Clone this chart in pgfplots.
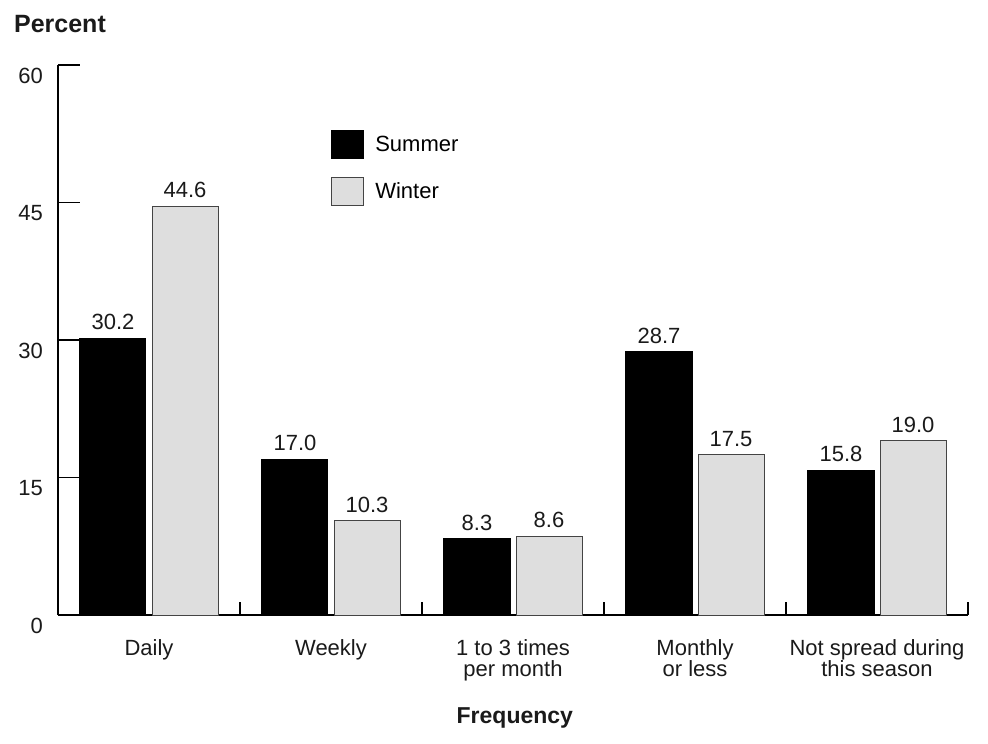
\documentclass[border=0pt]{standalone}
\usepackage{fontspec}
\setmainfont{Liberation Sans}
\usepackage{pgfplots}
\pgfplotsset{compat=1.18}
\definecolor{wbar}{HTML}{DEDEDE}
\definecolor{txt}{HTML}{1A1A1A}
\definecolor{edge}{HTML}{444444}
\begin{document}
\begin{tikzpicture}
\begin{axis}[
  scale only axis, width=455pt, height=275pt,
  xmin=-0.5, xmax=4.5, ymin=0, ymax=60,
  axis x line=bottom, axis y line=left,
  axis line style={line width=0.9pt, -},
  /pgf/number format/assume math mode=true,
  ytick={0,15,30,45,60},
  xtick={0,1,2,3,4},
  xticklabels={Daily, Weekly, {1 to 3 times\\per month}, {Monthly\\or less}, {Not spread during\\this season}},
  minor xtick={0.5,1.5,2.5,3.5,4.5},
  major x tick style={draw=none},
  minor x tick style={yshift=6.5pt},
  tick align=inside,
  major tick length=11pt,
  minor tick length=6.5pt,
  every tick/.style={black, line width=0.9pt},
  ticklabel style={font=\fontsize{11}{10.5}\selectfont, text=txt},
  xticklabel style={align=center, yshift=2.5pt},
  yticklabel style={xshift=-4pt, yshift=-5.5pt},
  every axis y label/.style={at={(rel axis cs:0,1)}, anchor=center, xshift=1pt, yshift=20.5pt, font=\fontsize{12.5}{13}\selectfont\bfseries, text=txt},
  every axis x label/.style={at={(rel axis cs:0.502,0)}, anchor=center, yshift=-51.5pt, font=\fontsize{11.5}{13}\selectfont\bfseries, text=txt},
  ylabel={Percent}, xlabel={Frequency},
  ybar, bar width=0.363,
  nodes near coords={\pgfmathprintnumber[fixed,fixed zerofill,precision=1]{\pgfplotspointmeta}},
  every node near coord/.append style={font=\fontsize{11}{11}\selectfont, text=txt, yshift=0.5pt},
  legend style={draw=none, fill=none, at={(0.2933,0.889)}, anchor=north west,
    font=\fontsize{11}{12}\selectfont, row sep=9pt, cells={anchor=west},
    /tikz/every odd column/.append style={column sep=3.5pt}},
  legend image code/.code={\draw[#1] (0pt,-7pt) rectangle (16pt,7pt);},
]
\addplot[bar shift=-0.198, fill=black, draw=black, line width=0.5pt]
  coordinates {(0,30.2) (1,17.0) (2,8.3) (3,28.7) (4,15.8)};
\addplot[bar shift=0.198, fill=wbar, draw=edge, line width=0.5pt]
  coordinates {(0,44.6) (1,10.3) (2,8.6) (3,17.5) (4,19.0)};
\legend{Summer, Winter}
\coordinate (O) at (rel axis cs:0,0);
\end{axis}
\path (O) ++(-29pt,-64pt) rectangle ++(494pt,371.5pt);
\end{tikzpicture}
\end{document}
